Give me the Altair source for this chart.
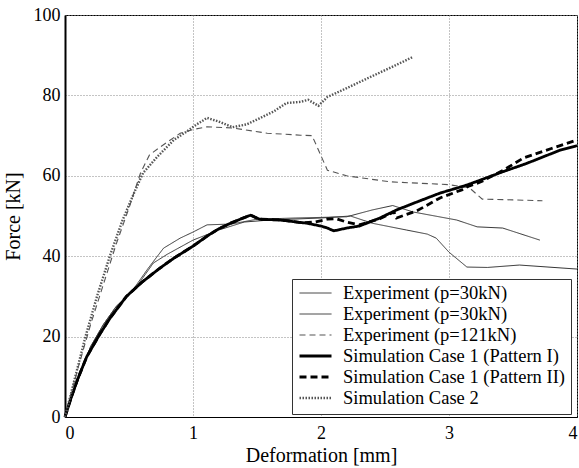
import altair as alt
import pandas as pd

# ---- data ----
exp1_x = [0, 0.1, 0.2, 0.3, 0.4, 0.5, 0.55, 0.65, 0.77, 0.9, 1.0, 1.11, 1.3, 1.5, 1.8, 2.2, 2.4, 2.56, 2.72, 3.06, 3.22, 3.42, 3.71]
exp1_y = [0, 9, 17.5, 23, 27.5, 30.5, 32.5, 37, 42, 44.5, 46, 47.8, 48, 49.2, 49.5, 49.8, 51.5, 52.6, 51, 49, 47.3, 47, 44]

exp2_x = [0, 0.1, 0.2, 0.3, 0.4, 0.5, 0.55, 0.69, 0.8, 1.0, 1.2, 1.4, 1.6, 2.0, 2.23, 2.4, 2.67, 2.83, 2.9, 3.0, 3.14, 3.3, 3.55, 4.0]
exp2_y = [0, 9, 17.5, 23, 27.5, 30.5, 32, 38.3, 40.5, 44, 46.5, 48.5, 49, 49.5, 50, 48.2, 46.5, 45.5, 44.5, 41, 37.3, 37.2, 37.8, 36.8]

exp121_x = [0, 0.1, 0.2, 0.3, 0.4, 0.5, 0.59, 0.66, 0.75, 0.9, 1.0, 1.11, 1.31, 1.58, 1.84, 1.93, 2.05, 2.2, 2.54, 3.0, 3.16, 3.26, 3.5, 3.73]
exp121_y = [0, 12, 23, 33, 43, 52, 60.7, 65.2, 67.3, 70.6, 71.5, 72.2, 71.9, 70.6, 70.1, 70, 61.4, 60, 58.5, 57.8, 57, 54.2, 54, 53.8]

sim1_x = [0, 0.05, 0.1, 0.17, 0.27, 0.35, 0.48, 0.6, 0.74, 0.85, 1.0, 1.11, 1.2, 1.3, 1.4, 1.45, 1.52, 1.68, 1.89, 2.0, 2.05, 2.1, 2.2, 2.3, 2.46, 2.59, 2.75, 2.93, 3.14, 3.42, 3.6, 3.87, 4.0]
sim1_y = [0, 5, 9.5, 15, 20.5, 24.5, 30, 33.5, 37, 39.5, 42.5, 45, 46.8, 48.3, 49.6, 50.2, 49.2, 49, 48.2, 47.5, 47, 46.3, 47, 47.5, 49.5, 51.5, 53.5, 55.7, 57.7, 61, 63, 66.4, 67.5]

sim2_x = [0, 0.05, 0.1, 0.17, 0.27, 0.35, 0.48, 0.6, 0.74, 0.85, 1.0, 1.11, 1.2, 1.3, 1.4, 1.45, 1.52, 1.7, 1.85, 1.95, 2.05, 2.12, 2.2, 2.3, 2.46, 2.57, 2.59, 2.75, 2.93, 3.1, 3.16, 3.25, 3.42, 3.58, 3.8, 4.0]
sim2_y = [0, 5, 9.5, 15, 20.5, 24.5, 30, 33.5, 37, 39.5, 42.5, 45, 46.8, 48.3, 49.6, 50.2, 49.2, 49, 48.3, 48.5, 49.2, 49.3, 48.5, 47.8, 49.3, 51, 49.5, 51.3, 54.5, 56.5, 57.5, 58.5, 61.3, 64.4, 66.8, 68.9]

case2_x = [0, 0.08, 0.16, 0.25, 0.35, 0.45, 0.55, 0.61, 0.72, 0.85, 0.95, 1.03, 1.11, 1.2, 1.31, 1.42, 1.52, 1.63, 1.73, 1.84, 1.9, 1.98, 2.05, 2.2, 2.4, 2.55, 2.72]
case2_y = [0, 10, 20, 30, 40, 49, 56.5, 60.7, 64.7, 68.9, 71, 72.8, 74.4, 73.5, 72.1, 72.8, 74.3, 76, 78.1, 78.4, 78.9, 77.4, 79.6, 81.8, 84.8, 87, 89.6]

series_names = [
    "Experiment (p=30kN)",
    "Experiment (p=30kN) ",
    "Experiment (p=121kN)",
    "Simulation Case 1 (Pattern I)",
    "Simulation Case 1 (Pattern II)",
    "Simulation Case 2",
]
series_data = [
    (exp1_x, exp1_y), (exp2_x, exp2_y), (exp121_x, exp121_y),
    (sim1_x, sim1_y), (sim2_x, sim2_y), (case2_x, case2_y),
]

rows = []
for name, (xs, ys) in zip(series_names, series_data):
    for i, (xv, yv) in enumerate(zip(xs, ys)):
        rows.append({"series": name, "x": xv, "y": yv, "i": i})
df = pd.DataFrame(rows)

colors = ["#333333", "#333333", "#555555", "#000000", "#000000", "#555555"]
dashes = [[1, 0], [1, 0], [6, 4], [1, 0], [7, 4], [1.5, 1.5]]
widths = [1, 1, 1.1, 2.8, 2.8, 2.4]

FONT = "Liberation Serif"

chart = alt.Chart(df).mark_line().encode(
    x=alt.X("x:Q", scale=alt.Scale(domain=[0, 4], nice=False),
            axis=alt.Axis(values=[0, 1, 2, 3, 4], title="Deformation [mm]", format="d")),
    y=alt.Y("y:Q", scale=alt.Scale(domain=[0, 100], nice=False),
            axis=alt.Axis(values=[0, 20, 40, 60, 80, 100], title="Force [kN]", format="d")),
    order="i:Q",
    color=alt.Color("series:N", scale=alt.Scale(domain=series_names, range=colors), title=None),
    strokeDash=alt.StrokeDash("series:N", scale=alt.Scale(domain=series_names, range=dashes), title=None),
    strokeWidth=alt.StrokeWidth("series:N", scale=alt.Scale(type="ordinal", domain=series_names, range=widths), title=None),
).properties(
    width=512, height=402,
    autosize=alt.AutoSizeParams(type="none"),
    padding={"left": 65, "top": 15, "right": 2, "bottom": 51},
).configure_view(
    stroke="black", strokeWidth=1
).configure_axis(
    labelFont=FONT, titleFont=FONT, labelFontSize=18, titleFontSize=20,
    titleFontWeight="normal", labelColor="black", titleColor="black",
    grid=True, gridColor="#888888", gridDash=[1, 2], gridWidth=1,
    domainColor="black", ticks=False, labelPadding=6,
).configure_axisY(
    domainWidth=2, titlePadding=10, labelPadding=5,
).configure_axisX(
    titlePadding=3, labelPadding=7,
).configure_legend(
    orient="none", legendX=227, legendY=264,
    symbolType="stroke", symbolSize=1024, clipHeight=16,
    labelFont=FONT, labelFontSize=18.5,
    labelColor="black", strokeColor="#333333", fillColor="white",
    padding=6, rowPadding=2, labelLimit=300, labelOffset=10,
)

chart.save("out.html", embed_options={"renderer": "svg", "actions": False})
